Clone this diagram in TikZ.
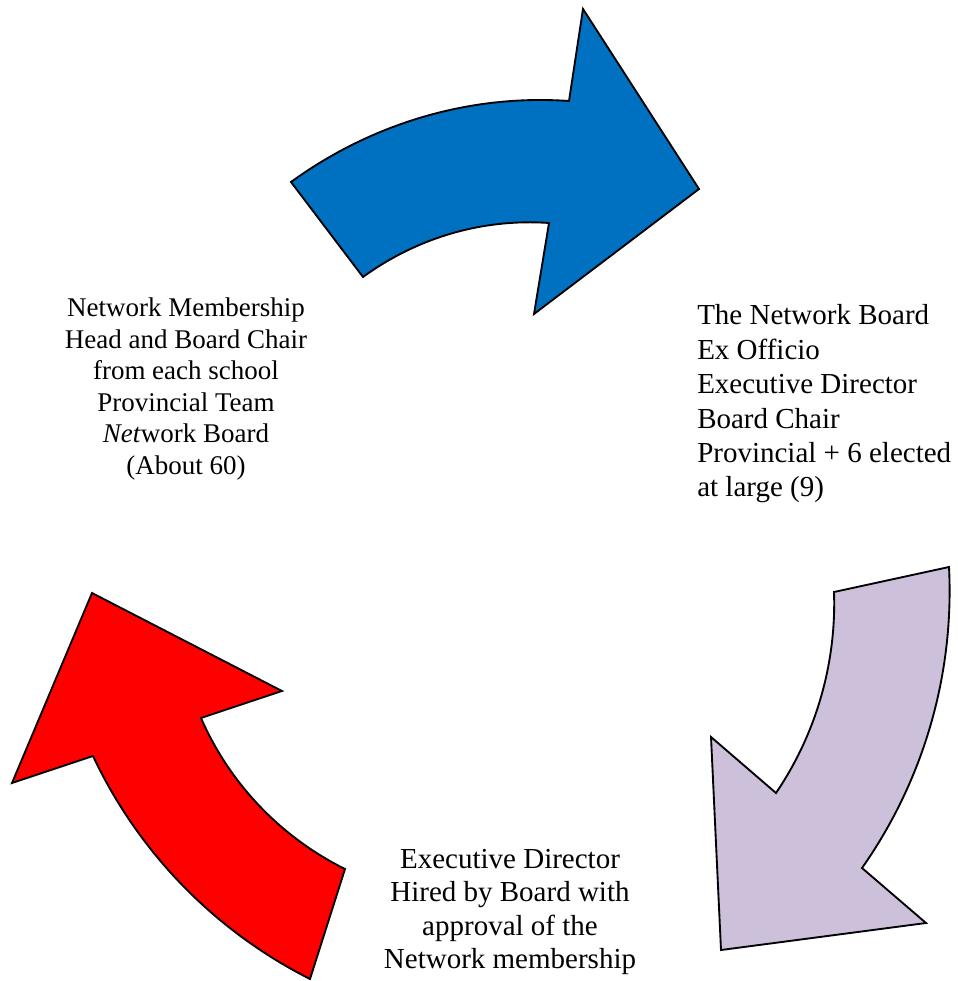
\documentclass[tikz,border=0pt]{standalone}
\usepackage{fontspec}
\setmainfont{Liberation Serif}
\definecolor{arrowblue}{HTML}{0070C0}
\definecolor{arrowlilac}{HTML}{CCC0DA}
\definecolor{arrowred}{HTML}{FF0000}
\begin{document}
\begin{tikzpicture}[x=0.75pt,y=-0.75pt,
  curvedarrow/.style={draw=black, line width=1.4pt, line join=miter},
  lefttext/.style={inner sep=0pt, align=center, font=\fontsize{20.25}{23.6}\selectfont},
  righttext/.style={inner sep=0pt, align=left, anchor=west, font=\fontsize{21.75}{25.8}\selectfont},
  bottomtext/.style={inner sep=0pt, align=center, font=\fontsize{21.75}{25}\selectfont}]
\useasboundingbox (0,0) rectangle (957,981);

% blue arrow (top)
\path[curvedarrow, fill=arrowblue]
  (291,182) .. controls (371.5,123.5) and (469.7,94) .. (569,101)
  -- (583,9) -- (699,189) -- (534,314) -- (549,223)
  .. controls (482.5,218.3) and (416.9,237.8) .. (363,277) -- cycle;

% lilac arrow (right)
\path[curvedarrow, fill=arrowlilac]
  (949,567) -- (834,592)
  .. controls (836.4,663.5) and (816.1,733.8) .. (776,793)
  -- (711,737) -- (721,950) -- (926,923) -- (862,868)
  .. controls (923.7,780.2) and (954.4,674.2) .. (949,567) -- cycle;

% red arrow (left)
\path[curvedarrow, fill=arrowred]
  (92,593) -- (282,691) -- (201,718)
  .. controls (229.7,783.7) and (280.8,837.1) .. (345,869)
  -- (310,979)
  .. controls (214.8,930.9) and (138.4,852.5) .. (93,756)
  -- (12,783) -- cycle;

\node[lefttext] (membership) at (186,389) {Network Membership\\Head and Board Chair\\from each school\\Provincial Team\\\textit{Net}work Board\\(About 60)};

\node[righttext] (board) at (697,404) {The Network Board\\Ex Officio\\Executive Director\\Board Chair\\Provincial + 6 elected\\at large (9)};

\node[bottomtext] (director) at (510,912) {Executive Director\\Hired by Board with\\approval of the\\Network membership};
\end{tikzpicture}
\end{document}
